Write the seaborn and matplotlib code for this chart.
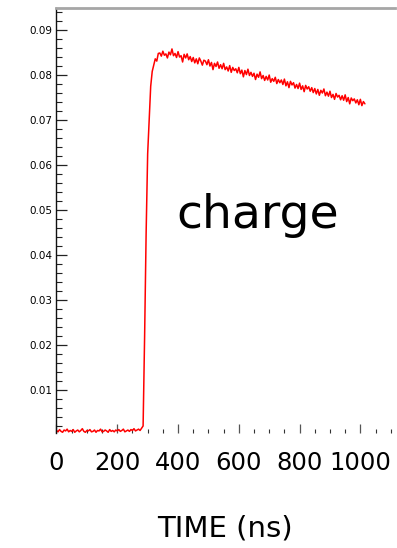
import numpy as np
import pandas as pd
import matplotlib
matplotlib.use("Agg")
import matplotlib.pyplot as plt
import seaborn as sns
from matplotlib.ticker import MultipleLocator, FormatStrFormatter

# ---- data ----
time_ns = np.arange(0, 1020, 5)  # sampling times, ns

baseline = [
    0.0010, 0.0007, 0.0012, 0.0008, 0.0006, 0.0011, 0.0009, 0.0013, 0.0007, 0.0010,
    0.0008, 0.0012, 0.0006, 0.0009, 0.0011, 0.0007, 0.0010, 0.0014, 0.0008, 0.0006,
    0.0010, 0.0009, 0.0012, 0.0007, 0.0008, 0.0011, 0.0006, 0.0010, 0.0009, 0.0013,
    0.0007, 0.0008, 0.0011, 0.0009, 0.0006, 0.0012, 0.0008, 0.0010, 0.0007, 0.0011,
    0.0009, 0.0012, 0.0008, 0.0010, 0.0013, 0.0007, 0.0009, 0.0011, 0.0008, 0.0012,
    0.0010, 0.0014, 0.0009, 0.0011, 0.0013, 0.0010, 0.0015,
]
rise = [0.0020, 0.0220, 0.0450, 0.0625, 0.0700, 0.0775, 0.0808, 0.0822, 0.0836, 0.0831, 0.0848]
plateau_decay = [
    0.0849, 0.0842, 0.0853, 0.0844, 0.0847, 0.0838, 0.0851, 0.0845, 0.0858, 0.0843,
    0.0848, 0.0839, 0.0852, 0.0840, 0.0843, 0.0829, 0.0846, 0.0838, 0.0847, 0.0834,
    0.0841, 0.0830, 0.0839, 0.0827, 0.0836, 0.0825, 0.0838, 0.0831, 0.0822, 0.0833,
    0.0831, 0.0823, 0.0834, 0.0820, 0.0828, 0.0812, 0.0826, 0.0819, 0.0829, 0.0815,
    0.0823, 0.0814, 0.0826, 0.0812, 0.0818, 0.0809, 0.0821, 0.0806, 0.0817, 0.0810,
    0.0814, 0.0805, 0.0817, 0.0803, 0.0811, 0.0796, 0.0810, 0.0801, 0.0813, 0.0799,
    0.0806, 0.0797, 0.0804, 0.0790, 0.0802, 0.0795, 0.0807, 0.0792, 0.0799, 0.0788,
    0.0797, 0.0789, 0.0800, 0.0784, 0.0792, 0.0786, 0.0795, 0.0781, 0.0790, 0.0783,
    0.0789, 0.0779, 0.0791, 0.0776, 0.0785, 0.0772, 0.0786, 0.0778, 0.0783, 0.0771,
    0.0779, 0.0770, 0.0782, 0.0768, 0.0776, 0.0763, 0.0777, 0.0769, 0.0774, 0.0764,
    0.0772, 0.0761, 0.0770, 0.0758, 0.0768, 0.0755, 0.0766, 0.0760, 0.0769, 0.0754,
    0.0762, 0.0753, 0.0764, 0.0750, 0.0757, 0.0746, 0.0759, 0.0751, 0.0755, 0.0745,
    0.0754, 0.0744, 0.0756, 0.0741, 0.0750, 0.0736, 0.0749, 0.0743, 0.0747, 0.0738,
    0.0745, 0.0734, 0.0746, 0.0732, 0.0741, 0.0736,
]
charge = baseline + rise + plateau_decay

x_ticks = [0, 200, 400, 600, 800, 1000]
x_tick_labels = ["0", "200", "400", "600", "800", "1000"]
y_ticks = [0.01, 0.02, 0.03, 0.04, 0.05, 0.06, 0.07, 0.08, 0.09]

df = pd.DataFrame({"time": time_ns, "charge": charge})

# ---- figure ----
sns.set_style("white")
plt.rcParams["font.family"] = ["DejaVu Sans"]
plt.rcParams["text.color"] = "black"
plt.rcParams["axes.labelcolor"] = "black"
plt.rcParams["xtick.color"] = "black"
plt.rcParams["ytick.color"] = "black"

fig = plt.figure(figsize=(3.97, 5.48), dpi=100)
ax = fig.add_axes([56.5 / 397, 1 - 433 / 548, (395 - 56.5) / 397, (433 - 8) / 548])

sns.lineplot(data=df, x="time", y="charge", ax=ax, color="#ff0000", linewidth=1.1)

ax.set_xlim(0, 1114)
ax.set_ylim(0.00044, 0.0949)

ax.set_xticks(x_ticks)
ax.set_xticklabels(x_tick_labels)
ax.xaxis.set_minor_locator(MultipleLocator(50))
ax.set_yticks(y_ticks)
ax.yaxis.set_major_formatter(FormatStrFormatter("%.2f"))
ax.yaxis.set_minor_locator(MultipleLocator(0.002))

ax.tick_params(axis="x", which="major", direction="in", length=6.5, width=0.9,
               color="#555555", labelcolor="black", labelsize=17.5, pad=13,
               bottom=True, top=False)
ax.tick_params(axis="x", which="minor", direction="in", length=2.8, width=0.8,
               color="#333333", bottom=True, top=False)
ax.tick_params(axis="y", which="major", direction="in", length=8, width=0.9,
               color="#222222", labelcolor="black", labelsize=7.5, pad=3,
               left=True, right=False)
ax.tick_params(axis="y", which="minor", direction="in", length=4.3, width=0.8,
               color="#222222", left=True, right=False)

ax.spines["bottom"].set_visible(False)
ax.spines["right"].set_visible(False)
ax.spines["left"].set_color("#111111")
ax.spines["left"].set_linewidth(1.0)
ax.spines["top"].set_color("#a6a6a6")
ax.spines["top"].set_linewidth(2.0)

ax.set_ylabel("")
ax.set_xlabel("TIME (ns)", fontsize=21, color="black")
ax.xaxis.set_label_coords(0.498, -(537 - 433) / 425)
ax.xaxis.label.set_va("baseline")

ax.text(0.595, 0.482, "charge", transform=ax.transAxes, fontsize=34,
        ha="center", va="baseline", color="black")

fig.savefig("out.png", dpi=100)
